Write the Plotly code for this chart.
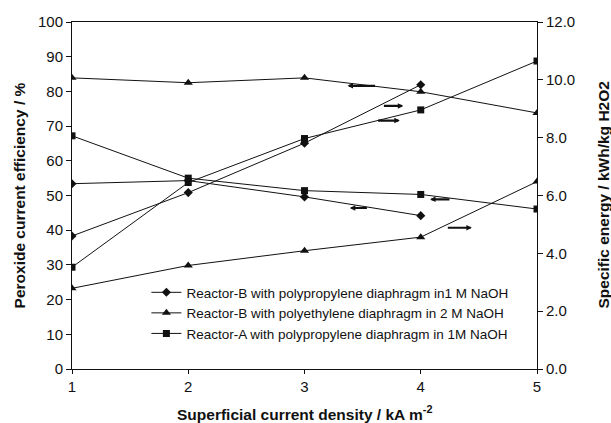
import plotly.graph_objects as go

x4 = [1, 2, 3, 4]
x5 = [1, 2, 3, 4, 5]

# Reactor-B, polypropylene diaphragm, 1 M NaOH (diamonds)
b_pp_eff = [53.4, 54.3, 49.6, 44.2]
b_pp_energy = [4.6, 6.1, 7.81, 9.83]
# Reactor-B, polyethylene diaphragm, 2 M NaOH (triangles)
b_pe_eff = [83.9, 82.5, 83.9, 79.9, 73.8]
b_pe_energy = [2.79, 3.58, 4.09, 4.56, 6.48]
# Reactor-A, polypropylene diaphragm, 1 M NaOH (squares)
a_pp_eff = [67.2, 55.0, 51.4, 50.3, 46.1]
a_pp_energy = [3.52, 6.45, 7.97, 8.96, 10.65]

names = [
    "Reactor-B with polypropylene diaphragm in1 M NaOH",
    "Reactor-B with polyethylene diaphragm in 2 M NaOH",
    "Reactor-A with polypropylene diaphragm in 1M NaOH",
]

x_title = "<b>Superficial current density / kA m<sup>-2</sup></b>"
y_title = "<b>Peroxide current efficiency / %</b>"
y2_title = "<b>Specific energy / kWh/kg H2O2</b>"

# arrows: (x_tail, x_head, y) in data coords of left axis
arrows = [
    (3.62, 3.37, 81.6),
    (3.67, 3.85, 75.8),
    (3.62, 3.82, 71.6),
    (4.26, 4.08, 48.9),
    (3.55, 3.39, 46.4),
    (4.22, 4.44, 40.7),
]

black = "#111111"
fig = go.Figure()

def add(x, y, sym, size, name, show, yaxis):
    fig.add_trace(go.Scatter(
        x=x, y=y, mode="lines+markers", name=name, showlegend=show,
        line=dict(color=black, width=1),
        marker=dict(symbol=sym, size=size, color=black),
        yaxis=yaxis,
    ))

add(x4, b_pp_eff, "diamond", 7, names[0], True, "y")
add(x5, b_pe_eff, "triangle-up", 8, names[1], True, "y")
add(x5, a_pp_eff, "square", 7, names[2], True, "y")
add(x4, b_pp_energy, "diamond", 7, names[0], False, "y2")
add(x5, b_pe_energy, "triangle-up", 8, names[1], False, "y2")
add(x5, a_pp_energy, "square", 7, names[2], False, "y2")

for xt, xh, y in arrows:
    fig.add_annotation(
        x=xh, y=y, ax=xt, ay=y, xref="x", yref="y", axref="x", ayref="y",
        showarrow=True, arrowhead=2, arrowsize=0.5, arrowwidth=2.2,
        arrowcolor=black, text="",
    )

tfont = dict(size=15.5, color=black)
fig.add_annotation(text=x_title, xref="paper", yref="paper", x=0.5, y=-0.127,
                   xanchor="center", yanchor="middle", showarrow=False, font=tfont)
fig.add_annotation(text=y_title, xref="paper", yref="paper", x=-0.112, y=0.5,
                   xanchor="center", yanchor="middle", showarrow=False,
                   textangle=-90, font=tfont)
fig.add_annotation(text=y2_title, xref="paper", yref="paper", x=1.142, y=0.5,
                   xanchor="center", yanchor="middle", showarrow=False,
                   textangle=-90, font=tfont)

font = "Liberation Sans, Arial, sans-serif"
fig.update_layout(
    width=611, height=423,
    margin=dict(l=72, r=74, t=22, b=54),
    plot_bgcolor="white", paper_bgcolor="white",
    font=dict(family=font, size=15, color=black),
    showlegend=True,
    legend=dict(x=0.16, y=0.265, xanchor="left", yanchor="top",
                bgcolor="rgba(0,0,0,0)", font=dict(size=13.5),
                tracegroupgap=0, itemwidth=30),
    xaxis=dict(
        range=[1, 5], tickvals=[1, 2, 3, 4, 5], showgrid=False, zeroline=False,
        showline=True, linecolor=black, linewidth=1, ticks="outside",
        ticklen=4, tickcolor=black, mirror=True, automargin=False,
    ),
    yaxis=dict(
        range=[0, 100], tickvals=list(range(0, 101, 10)), showgrid=False,
        zeroline=False, showline=True, linecolor=black, linewidth=1,
        ticks="outside", ticklen=5, tickcolor=black, automargin=False,
    ),
    yaxis2=dict(
        range=[0, 12], tickvals=[0, 2, 4, 6, 8, 10, 12], tickformat=".1f",
        overlaying="y", side="right", showgrid=False, zeroline=False,
        showline=True, linecolor=black, linewidth=1, ticks="outside",
        ticklen=5, tickcolor=black, automargin=False,
    ),
)

fig.write_html("out.html")
